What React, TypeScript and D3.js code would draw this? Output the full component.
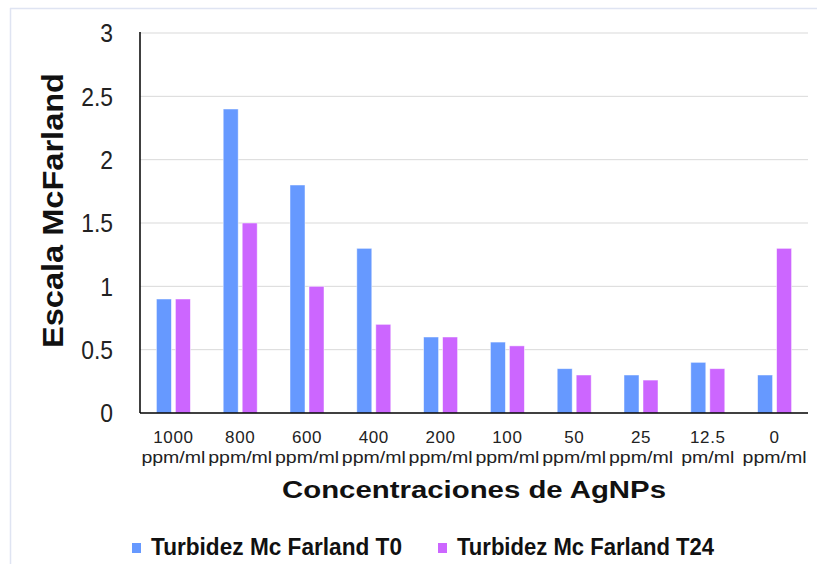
import React from "react";
import * as d3 from "d3";

const categories = ["1000", "800", "600", "400", "200", "100", "50", "25", "12.5", "0"];
const unitLabels = ["ppm/ml", "ppm/ml", "ppm/ml", "ppm/ml", "ppm/ml", "ppm/ml", "ppm/ml", "ppm/ml", "pm/ml", "ppm/ml"];
const seriesT0 = [0.9, 2.4, 1.8, 1.3, 0.6, 0.56, 0.35, 0.3, 0.4, 0.3];
const seriesT24 = [0.9, 1.5, 1.0, 0.7, 0.6, 0.53, 0.3, 0.26, 0.35, 1.3];
const seriesNames = ["Turbidez Mc Farland T0", "Turbidez Mc Farland T24"];
const yTicks = [0, 0.5, 1, 1.5, 2, 2.5, 3];

const COLORS = ["#6699FF", "#CC66FF"];
const SANS = "'Liberation Sans', Arial, sans-serif";

export default function App() {
  const W = 817;
  const H = 564;
  const left = 140;
  const right = 808;
  const top = 33;
  const bottom = 413;

  const x0 = d3.scaleBand<string>().domain(categories).range([left, right]).paddingInner(0).paddingOuter(0);
  const y = d3.scaleLinear().domain([0, 3]).range([bottom, top]);
  const barW = 15;
  const gap = 4;

  const series = [seriesT0, seriesT24];

  return (
    <svg width={W} height={H} style={{ position: "absolute", left: 0, top: 0 }}>
      <rect x={0} y={0} width={W} height={H} fill="#ffffff" />
      {/* outer frame */}
      <line x1={10} y1={8.5} x2={W} y2={8.5} stroke="#dfe4f2" strokeWidth={1.5} />
      <line x1={10.5} y1={8} x2={10.5} y2={H} stroke="#dfe4f2" strokeWidth={1.5} />

      {/* gridlines */}
      {yTicks.filter((t) => t > 0).map((t) => (
        <line key={t} x1={left} x2={right} y1={y(t)} y2={y(t)} stroke="#d9d9d9" strokeWidth={1} />
      ))}

      {/* bars */}
      {categories.map((c, i) => {
        const cx = (x0(c) as number) + x0.bandwidth() / 2;
        return series.map((s, k) => {
          const bx = k === 0 ? cx - gap / 2 - barW : cx + gap / 2;
          return (
            <rect
              key={c + k}
              x={bx}
              y={y(s[i])}
              width={barW}
              height={bottom - y(s[i])}
              fill={COLORS[k]}
              stroke="#ffffff"
              strokeOpacity={0.6}
              strokeWidth={0.8}
            />
          );
        });
      })}

      {/* axes */}
      <line x1={left} x2={left} y1={top - 1} y2={bottom} stroke="#000" strokeWidth={1.5} />
      <line x1={left} x2={right} y1={bottom} y2={bottom} stroke="#000" strokeWidth={1.5} />

      {/* y tick labels */}
      {yTicks.map((t) => (
        <text
          key={t}
          transform={`translate(${left - 27}, ${y(t)}) scale(0.88, 1)`}
          dy="0.36em"
          textAnchor="end"
          fontFamily={SANS}
          fontSize={26}
          fill="#222"
        >
          {d3.format("")(t)}
        </text>
      ))}

      {/* x tick labels */}
      {categories.map((c, i) => {
        const cx = (x0(c) as number) + x0.bandwidth() / 2;
        const uw = unitLabels[i].length === 6 ? 64 : 53;
        return (
          <g key={c}>
            <text x={cx} y={443} textAnchor="middle" fontFamily={SANS} fontSize={17} fill="#222" letterSpacing={0.6}>
              {c}
            </text>
            <text
              x={cx}
              y={463}
              textAnchor="middle"
              fontFamily={SANS}
              fontSize={16}
              fill="#222"
              textLength={uw}
              lengthAdjust="spacingAndGlyphs"
            >
              {unitLabels[i]}
            </text>
          </g>
        );
      })}

      {/* axis titles */}
      <text
        x={474}
        y={498}
        textAnchor="middle"
        fontFamily={SANS}
        fontWeight="bold"
        fontSize={23}
        fill="#111"
        textLength={384}
        lengthAdjust="spacingAndGlyphs"
      >
        Concentraciones de AgNPs
      </text>
      <text
        transform={`translate(63, 210.5) rotate(-90)`}
        textAnchor="middle"
        fontFamily={SANS}
        fontWeight="bold"
        fontSize={29}
        fill="#111"
        textLength={275}
        lengthAdjust="spacingAndGlyphs"
      >
        Escala McFarland
      </text>

      {/* legend */}
      {seriesNames.map((n, k) => {
        const lx = k === 0 ? 132 : 438;
        const tw = k === 0 ? 251 : 257;
        return (
          <g key={n}>
            <rect x={lx} y={543} width={9} height={10} fill={COLORS[k]} />
            <text
              x={lx + 19}
              y={555}
              fontFamily={SANS}
              fontWeight="bold"
              fontSize={23}
              fill="#111"
              textLength={tw}
              lengthAdjust="spacingAndGlyphs"
            >
              {n}
            </text>
          </g>
        );
      })}
    </svg>
  );
}
